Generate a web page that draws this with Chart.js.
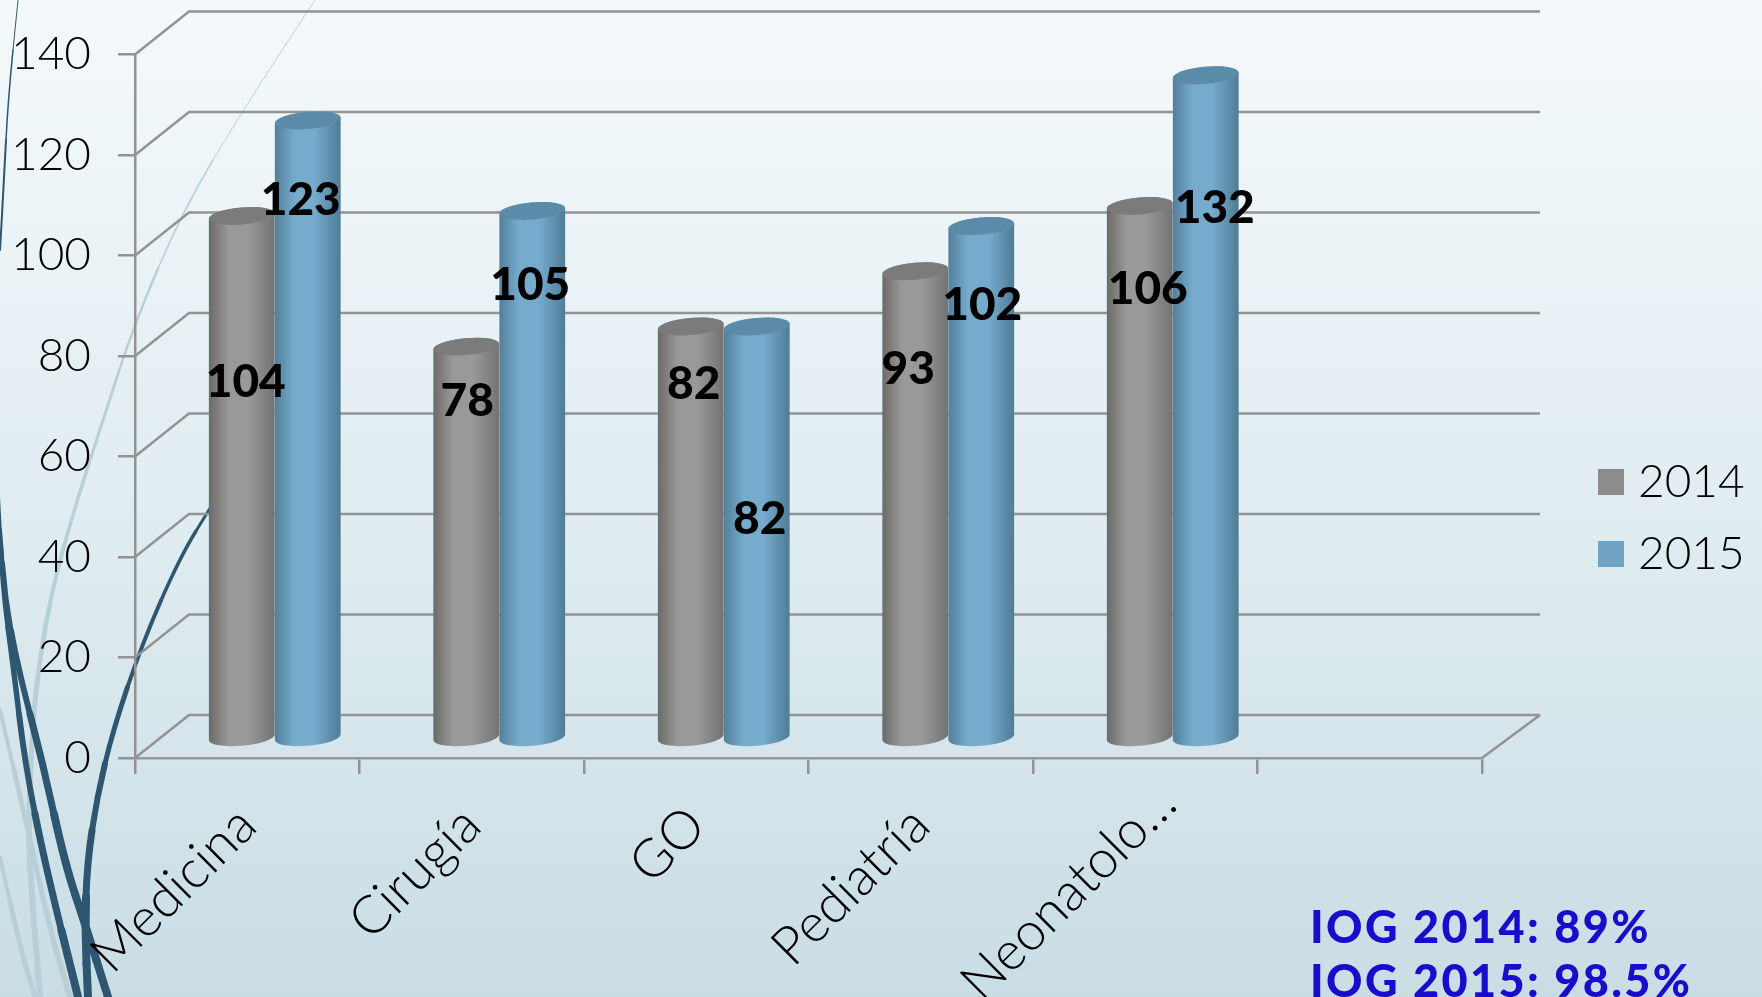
<!DOCTYPE html>
<html>
<head>
<meta charset="utf-8">
<title>IOG</title>
<script src="https://cdn.jsdelivr.net/npm/chart.js@4/dist/chart.umd.min.js"></script>
<style>
  html, body { margin: 0; height: 100%; overflow: hidden; }
  body { background: linear-gradient(180deg, #f4f9fb 0%, #e1edf1 50%, #c9dde5 100%); }
  #wrap { position: absolute; left: 0; top: 0; width: 1762px; height: 997px; }
  #iog {
    position: absolute; left: 1310px; top: 899px;
    font: 900 45px/54px Lato, sans-serif; letter-spacing: 2.4px; color: #1a0ccc; white-space: nowrap;
  }
</style>
</head>
<body>
<div id="wrap">
  <canvas id="barChart" width="1762" height="997"></canvas>
  <div id="iog">IOG 2014: 89%<br>IOG 2015: 98.5%</div>
</div>
<script>
const categories = ["Medicina", "Cirugía", "GO", "Pediatría", "Neonatolo…", ""];
const seriesNames = ["2014", "2015"];
const values2014 = [104, 78, 82, 93, 106];
const values2015 = [123, 105, 82, 102, 132];

// data labels were moved by hand in the original, so they get their own nudges (px, from bar centre / bar top)
const labelDx = [[5, 2, 4, -6, 9], [-6, -1, 4, 2, 10]];
const labelDy = [[166, 55, 58, 98, 83], [80, 74, 193, 79, 133]];

// where the back wall sits relative to the front axis, and the bars in between
const wallDx = 54, wallDy = -43;
const barDx = 27.5, barDy = -19.5;
const lineColor = "#939393";

const shades = {
  "#8c8c8c": { left: "#6a6a6a", mid: "#999999", right: "#727272", cap: "#7b7b7b" },
  "#71a3c5": { left: "#527f9b", mid: "#76abcd", right: "#4f7c96", cap: "#5b8ba8" },
};

// background swooshes on the left of the slide: [x, y, width] along each one
const wisps = [
  { color: "#b9cfd8", pts: [[315, 0, 1], [243, 110, 1], [183, 210, 1.5], [133, 327, 2.5], [100, 430, 3], [78, 497, 3.5], [57, 570, 4], [43, 637, 4.5], [33, 714, 5], [28, 830, 5.5], [32, 897, 6], [40, 997, 6]] },
  { color: "#b9cfd8", pts: [[0, 710, 4], [28, 830, 5], [50, 930, 5.5], [70, 997, 6]] },
  { color: "#b9cfd8", pts: [[0, 857, 4], [20, 947, 5], [35, 997, 5]] },
  { color: "#2f5670", pts: [[18, 0, 1], [8, 100, 1.5], [4, 180, 2], [0, 250, 2]] },
  { color: "#2f5670", pts: [[-2, 497, 4], [3, 590, 5], [13, 664, 5.5], [25, 764, 6], [45, 864, 7], [78, 997, 8]] },
  { color: "#2f5670", pts: [[0, 530, 4], [5, 597, 5], [17, 664, 6], [43, 764, 7], [65, 864, 8], [85, 924, 8], [108, 997, 8]] },
  { color: "#2f5670", pts: [[212, 505, 3], [180, 557, 3.5], [142, 644, 4], [113, 730, 5], [97, 797, 6], [87, 864, 7], [85, 930, 8], [88, 997, 8]] },
];

class CylinderBar extends Chart.BarElement {
  static id = "cylinderBar";
  draw(ctx) {
    const { x, y, base, width } = this.getProps(["x", "y", "base", "width"], true);
    const shade = shades[this.options.backgroundColor];
    const cx = x + barDx, top = y + barDy, bottom = base + barDy;
    const rx = width / 2, ry = 8.5, tilt = -5 * Math.PI / 180;

    const side = ctx.createLinearGradient(cx - rx, 0, cx + rx, 0);
    side.addColorStop(0, shade.left);
    side.addColorStop(0.3, shade.mid);
    side.addColorStop(0.6, shade.mid);
    side.addColorStop(1, shade.right);

    ctx.save();
    ctx.beginPath();
    ctx.ellipse(cx, bottom, rx, ry, tilt, 0, Math.PI);
    ctx.ellipse(cx, top, rx, ry, tilt, Math.PI, Math.PI * 2);
    ctx.closePath();
    ctx.fillStyle = side;
    ctx.fill();

    ctx.beginPath();
    ctx.ellipse(cx, top, rx, ry, tilt, 0, Math.PI * 2);
    ctx.fillStyle = shade.cap;
    ctx.fill();
    ctx.restore();
  }
}
Chart.register(CylinderBar);
Chart.defaults.datasets.bar.dataElementType = "cylinderBar";

const wispPlugin = {
  id: "wisps",
  beforeDraw(chart) {
    const ctx = chart.ctx;
    ctx.save();
    ctx.lineCap = "round";
    wisps.forEach((wisp) => {
      ctx.strokeStyle = wisp.color;
      const p = wisp.pts;
      for (let i = 0; i < p.length - 1; i++) {
        // smooth through the midpoints, a piece at a time so the width can grow
        const prev = i === 0 ? p[0] : [(p[i - 1][0] + p[i][0]) / 2, (p[i - 1][1] + p[i][1]) / 2];
        const next = [(p[i][0] + p[i + 1][0]) / 2, (p[i][1] + p[i + 1][1]) / 2];
        ctx.lineWidth = p[i][2];
        ctx.beginPath();
        ctx.moveTo(prev[0], prev[1]);
        ctx.quadraticCurveTo(p[i][0], p[i][1], next[0], next[1]);
        ctx.stroke();
      }
      const a = p[p.length - 2], b = p[p.length - 1];
      ctx.lineWidth = b[2];
      ctx.beginPath();
      ctx.moveTo((a[0] + b[0]) / 2, (a[1] + b[1]) / 2);
      ctx.lineTo(b[0], b[1]);
      ctx.stroke();
    });
    ctx.restore();

    // the truncated label sits further along its slant than the others
    const item = chart.scales.x.getLabelItems(chart.chartArea)[4];
    if (!item.options.nudged) {
      item.options.translation[0] += 22;
      item.options.translation[1] -= 22;
      item.options.nudged = true;
    }
  },
};

// fake 3D box: side wall, back wall and floor, taken from the y scale ticks
const wallPlugin = {
  id: "wall",
  beforeDatasetsDraw(chart) {
    const ctx = chart.ctx;
    const { left, right, bottom } = chart.chartArea;
    ctx.save();
    ctx.strokeStyle = lineColor;
    ctx.lineWidth = 2.5;
    chart.scales.y.ticks.forEach((tick, i) => {
      const py = chart.scales.y.getPixelForTick(i);
      ctx.beginPath();
      ctx.moveTo(left, py);
      ctx.lineTo(left + wallDx, py + wallDy);
      ctx.lineTo(right + wallDx + 4, py + wallDy);
      ctx.stroke();
    });
    ctx.beginPath();
    ctx.moveTo(right, bottom);
    ctx.lineTo(right + wallDx + 4, bottom + wallDy);
    ctx.stroke();
    ctx.restore();

    // the library paints the first dataset last, here 2015 has to cover 2014
    chart.getDatasetMeta(0).controller.draw();
  },
  beforeDatasetDraw(chart, args) {
    if (args.index === 0) return false;
  },
};

const dataLabelPlugin = {
  id: "dataLabels",
  afterDatasetsDraw(chart) {
    const ctx = chart.ctx;
    ctx.save();
    ctx.font = "900 46px Lato";
    ctx.fillStyle = "#000";
    ctx.textAlign = "center";
    ctx.textBaseline = "middle";
    chart.data.datasets.forEach((ds, d) => {
      chart.getDatasetMeta(d).data.forEach((bar, i) => {
        if (ds.data[i] === undefined) return;
        ctx.fillText(ds.data[i], bar.x + barDx + labelDx[d][i] - 1, bar.y + barDy + labelDy[d][i]);
      });
    });
    ctx.restore();
  },
};

const legendPlugin = {
  id: "legendSpot",
  afterLayout(chart) {
    const legend = chart.legend;
    const w = legend.width, h = legend.height;
    legend.left = 1581;
    legend.right = legend.left + w;
    legend.top = 433;
    legend.bottom = legend.top + h;
  },
};

const ctx = document.getElementById("barChart").getContext("2d");
const barChart = new Chart(ctx, {
  type: "bar",
  data: {
    labels: categories,
    datasets: [
      // the border only feeds the legend swatch, the cylinders ignore it
      { label: seriesNames[0], data: values2014, backgroundColor: "#8c8c8c", borderColor: "#8c8c8c", borderWidth: 18, barPercentage: 1, categoryPercentage: 0.588 },
      { label: seriesNames[1], data: values2015, backgroundColor: "#71a3c5", borderColor: "#71a3c5", borderWidth: 18, barPercentage: 1, categoryPercentage: 0.588 },
    ],
  },
  options: {
    responsive: false,
    animation: false,
    layout: { padding: { top: 51, right: 280, bottom: 0, left: 0 } },
    scales: {
      x: {
        afterFit: (axis) => { axis.height = 239; },
        border: { color: "#999999", width: 2.5 },
        grid: { drawOnChartArea: false, color: lineColor, lineWidth: 2.5, tickLength: 16 },
        ticks: {
          autoSkip: false,
          minRotation: 45,
          maxRotation: 45,
          padding: 20,
          color: "#000",
          font: { family: "Lato", size: 53, weight: 300 },
        },
      },
      y: {
        min: 0,
        max: 140,
        afterFit: (axis) => { axis.width = 135; },
        border: { color: lineColor, width: 2.5 },
        grid: { drawOnChartArea: false, color: lineColor, lineWidth: 2.5, tickLength: 17 },
        ticks: {
          stepSize: 20,
          padding: 27,
          color: "#000",
          font: { family: "Lato", size: 46, weight: 300 },
        },
      },
    },
    plugins: {
      tooltip: { enabled: false },
      legend: {
        position: "chartArea",
        align: "start",
        labels: {
          boxWidth: 8,
          boxHeight: 8,
          padding: 26,
          color: "#000",
          font: { family: "Lato", size: 46, weight: 300 },
        },
      },
    },
  },
  plugins: [wispPlugin, wallPlugin, dataLabelPlugin, legendPlugin],
});
</script>
</body>
</html>
